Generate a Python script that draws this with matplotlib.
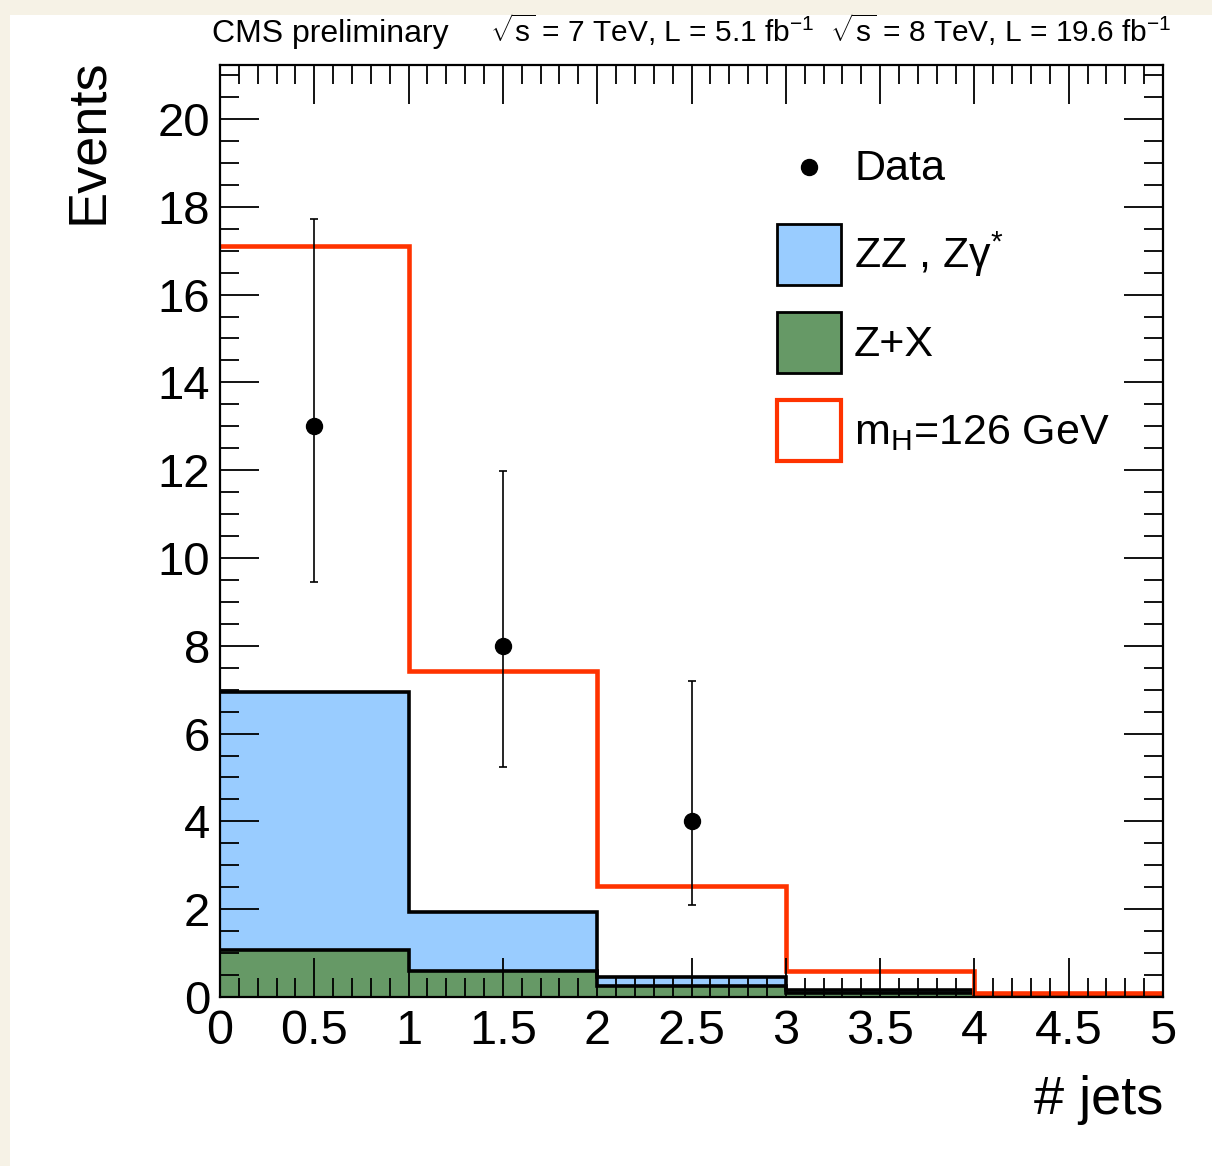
import matplotlib
matplotlib.use("Agg")
import matplotlib.pyplot as plt
from matplotlib.patches import Patch, Rectangle
from matplotlib.lines import Line2D
from matplotlib.legend_handler import HandlerLine2D
from matplotlib.ticker import MultipleLocator
import numpy as np

plt.rcParams["font.family"] = ["Liberation Sans", "DejaVu Sans"]
plt.rcParams["mathtext.fontset"] = "custom"
plt.rcParams["mathtext.rm"] = "Liberation Sans"
plt.rcParams["mathtext.it"] = "Liberation Sans:italic"

# jet multiplicity bins
bin_edges = [0, 1, 2, 3, 4, 5]

# stacked components per bin
zx_counts = [1.07, 0.59, 0.26, 0.10, 0.02]
zz_counts = [5.88, 1.35, 0.20, 0.05, 0.01]
higgs_counts = [10.15, 5.49, 2.07, 0.44, 0.06]

# observed data
data_x = [0.5, 1.5, 2.5]
data_y = [13, 8, 4]
data_err_lo = [3.55, 2.76, 1.90]
data_err_hi = [4.72, 3.98, 3.20]

legend_labels = ["Data", "ZZ , Zγ$^{*}$", "Z+X", r"m$_\mathrm{H}$=126 GeV"]

BLUE = "#99ccff"
GREEN = "#669966"
RED = "#ff3300"

W, H = 1212, 1166


def lower_marker(legend_handle, orig_handle):
    # centre the data dot on its legend row like ROOT does
    legend_handle.update_from(orig_handle)
    legend_handle.set_ydata(np.asarray(legend_handle.get_ydata()) - 6.5)


def main():
    fig = plt.figure(figsize=(W / 100, H / 100), dpi=100, facecolor="#f6f2e6")
    fig.patches.append(Rectangle((10 / W, 0), 1, 1 - 15 / H, transform=fig.transFigure,
                                 facecolor="white", edgecolor="none", zorder=-5))
    ax = fig.add_axes([220 / W, 1 - 997 / H, (1163 - 220) / W, (997 - 65) / H])

    zx = np.array(zx_counts)
    bkg = zx + np.array(zz_counts)
    total = bkg + np.array(higgs_counts)

    ax.stairs(zx, bin_edges, baseline=0, fill=True, color=GREEN, zorder=1)
    ax.stairs(bkg, bin_edges, baseline=zx, fill=True, color=BLUE, zorder=1)
    ax.stairs(zx, bin_edges, baseline=None, color="black", lw=2.6, zorder=2)
    ax.stairs(bkg, bin_edges, baseline=None, color="black", lw=2.6, zorder=2)
    ax.stairs(total, bin_edges, baseline=None, color=RED, lw=3.3, zorder=2.2)

    ax.errorbar(data_x, data_y, yerr=[data_err_lo, data_err_hi], fmt="o", color="black",
                markersize=11.5, elinewidth=1.2, capsize=2.6, capthick=1.2, zorder=3)

    ax.set_xlim(0, 5)
    ax.set_ylim(0, 21.23)
    ax.xaxis.set_major_locator(MultipleLocator(0.5))
    ax.xaxis.set_minor_locator(MultipleLocator(0.1))
    ax.yaxis.set_major_locator(MultipleLocator(2))
    ax.yaxis.set_minor_locator(MultipleLocator(0.5))
    ax.xaxis.set_major_formatter(lambda v, p: f"{v:g}")
    ax.tick_params(which="both", direction="in", top=True, right=True)
    ax.tick_params(which="major", length=28, width=1.3)
    ax.tick_params(which="minor", length=14, width=1.3)
    ax.tick_params(axis="x", pad=9, labelsize=35)
    ax.tick_params(axis="y", pad=7, labelsize=34)
    ax.set_axisbelow(False)
    for s in ax.spines.values():
        s.set_linewidth(1.6)

    fig.text(88 / W, 1 - 58 / H, "Events", rotation=90, ha="center", va="top", fontsize=39)
    fig.text(1163 / W, 1 - 1100 / H, "# jets", ha="right", va="center", fontsize=39)

    fig.text(212 / W, 1 - 42 / H, "CMS preliminary", ha="left", va="baseline", fontsize=23)
    fig.text(1172 / W, 1 - 42 / H,
             r"$\sqrt{\mathrm{s}}$ = 7 TeV, L = 5.1 fb$^{-1}$  "
             r"$\sqrt{\mathrm{s}}$ = 8 TeV, L = 19.6 fb$^{-1}$",
             ha="right", va="baseline", fontsize=21.5)

    data_handle = Line2D([], [], marker="o", color="black", ls="none", markersize=11.5)
    handles = [
        data_handle,
        Patch(facecolor=BLUE, edgecolor="black", lw=2),
        Patch(facecolor=GREEN, edgecolor="black", lw=2),
        Patch(facecolor="white", edgecolor=RED, lw=3),
    ]
    ax.legend(handles, legend_labels, loc="upper left",
              bbox_to_anchor=(777 / W, 1 - 136 / H), bbox_transform=fig.transFigure,
              frameon=False, fontsize=31, handlelength=1.49, handleheight=1.81,
              labelspacing=0.62, handletextpad=0.3, borderpad=0, borderaxespad=0,
              handler_map={data_handle: HandlerLine2D(update_func=lower_marker)})

    fig.savefig("out.png", dpi=100, facecolor=fig.get_facecolor())


if __name__ == "__main__":
    main()
